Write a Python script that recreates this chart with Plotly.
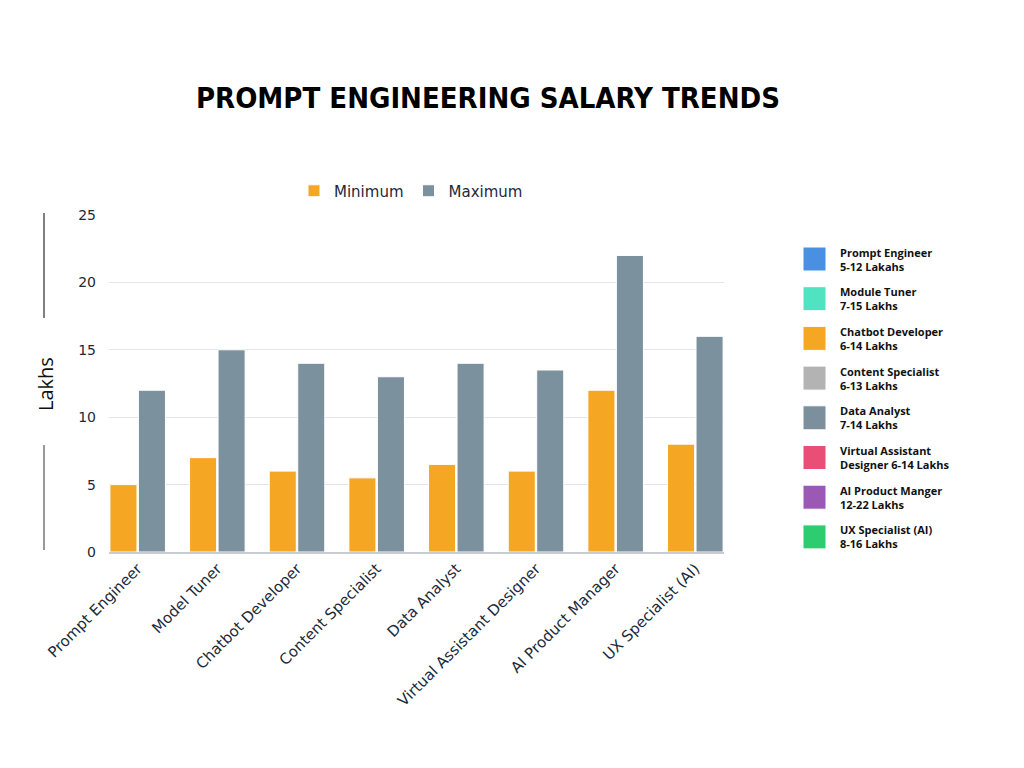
import plotly.graph_objects as go

categories = ["Prompt Engineer", "Model Tuner", "Chatbot Developer", "Content Specialist",
              "Data Analyst", "Virtual Assistant Designer", "AI Product Manager", "UX Specialist (AI)"]
minimum = [5, 7, 6, 5.5, 6.5, 6, 12, 8]
maximum = [12, 15, 14, 13, 14, 13.5, 22, 16]

side_labels = ["Prompt Engineer<br>5-12 Lakahs", "Module Tuner<br>7-15 Lakhs",
               "Chatbot Developer<br>6-14 Lakhs", "Content Specialist<br>6-13 Lakhs",
               "Data Analyst<br>7-14 Lakhs", "Virtual Assistant<br>Designer 6-14 Lakhs",
               "AI Product Manger<br>12-22 Lakhs", "UX Specialist (AI)<br>8-16 Lakhs"]
side_colors = ["#4A90E2", "#50E3C2", "#F5A623", "#B3B3B3", "#7B909C", "#E94E77", "#9B59B6", "#2ECC71"]

OFF = 8  # page body margin
W, H = 1024 - OFF, 768 - OFF
PX0, PX1, PY0, PY1 = 109 - OFF, 724 - OFF, 215 - OFF, 552 - OFF  # plot area in figure px
L, R, T, B = PX0, W - PX1, PY0, H - PY1
pw, ph = PX1 - PX0, PY1 - PY0
FONT = "DejaVu Sans"
TXT = "#1c2a3a"


def fx(xref):  # reference screen x -> paper
    return (xref - OFF - PX0) / pw


def fy(yref):  # reference screen y -> paper
    return (PY1 - (yref - OFF)) / ph


fig = go.Figure()
fig.add_trace(go.Bar(x=categories, y=minimum, name="Minimum",
                     marker=dict(color="#F5A623", line=dict(color="white", width=1))))
fig.add_trace(go.Bar(x=categories, y=maximum, name="Maximum",
                     marker=dict(color="#7B919D", line=dict(color="white", width=1))))

shapes = []
annotations = []
shapes.append(dict(type="line", xref="paper", yref="paper", x0=fx(44), x1=fx(44),
                   y0=fy(318), y1=fy(213), line=dict(color="black", width=1)))
shapes.append(dict(type="line", xref="paper", yref="paper", x0=fx(44), x1=fx(44),
                   y0=fy(550), y1=fy(445), line=dict(color="#777777", width=1.5)))

for i, (lab, col) in enumerate(zip(side_labels, side_colors)):
    cy = 259 + i * 39.7
    shapes.append(dict(type="rect", xref="paper", yref="paper", x0=fx(803), x1=fx(826),
                       y0=fy(cy + 12), y1=fy(cy - 12),
                       fillcolor=col, line=dict(color="white", width=1)))
    annotations.append(dict(text="<b>" + lab.replace("<br>", "</b><br><b>") + "</b>",
                            xref="paper", yref="paper", x=fx(838), y=fy(cy),
                            xanchor="left", yanchor="middle", showarrow=False, align="left",
                            font=dict(family="Open Sans", size=11, color="#111111")))

annotations.append(dict(text="Lakhs", xref="paper", yref="paper", x=fx(45), y=fy(384),
                        textangle=-90, showarrow=False, xanchor="center", yanchor="middle",
                        font=dict(family="Open Sans", size=20, color="#111111")))

fig.update_layout(
    width=W, height=H,
    margin=dict(l=L, r=R, t=T, b=B),
    paper_bgcolor="white", plot_bgcolor="white",
    barmode="group", bargap=0.285, bargroupgap=0.05,
    title=dict(text="<b>PROMPT ENGINEERING SALARY TRENDS</b>", x=(488 - OFF) / W, xanchor="center",
               y=1 - (98 - OFF) / H, yanchor="middle",
               font=dict(family="DejaVu Sans Condensed", size=29, color="#000000")),
    legend=dict(orientation="h", x=fx(411), xanchor="center", y=fy(191), yanchor="middle",
                font=dict(family=FONT, size=15, color=TXT), itemwidth=30, traceorder="normal"),
    xaxis=dict(tickangle=-45, tickfont=dict(family=FONT, size=15, color=TXT),
               range=[-0.36, 7.36],
               showline=True, linecolor="#c8cdd2", linewidth=2, ticks=""),
    yaxis=dict(range=[0, 25], dtick=5, tickfont=dict(family=FONT, size=14, color=TXT),
               gridcolor="#e3e6e8", gridwidth=1, zeroline=False, ticks="", ticklabelstandoff=12),
    shapes=shapes, annotations=annotations,
    font=dict(family=FONT),
)

fig.write_html("out.html")
